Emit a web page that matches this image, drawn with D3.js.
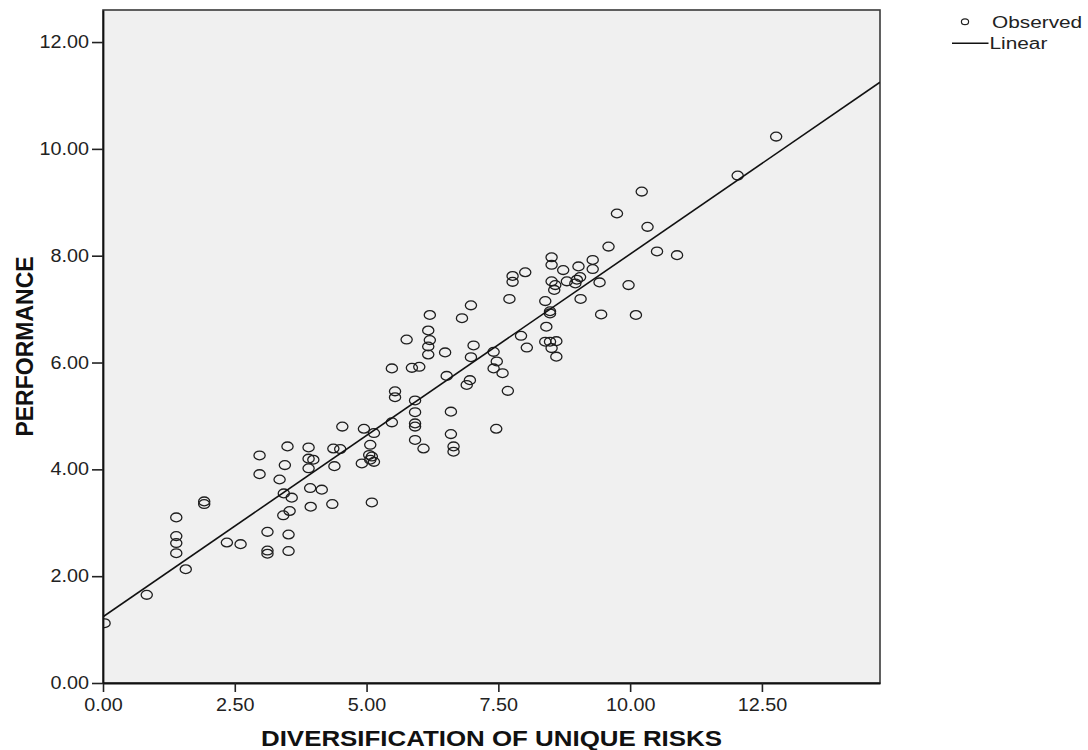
<!DOCTYPE html>
<html>
<head>
<meta charset="utf-8">
<script src="https://cdn.jsdelivr.net/npm/d3@7"></script>
<style>
  body { margin: 0; background: #fff; }
  text { font-family: Arial, "Liberation Sans", sans-serif; }
</style>
</head>
<body>
<svg width="1088" height="750"></svg>
<script>
// observed points
const diversification = [
  0.03, 0.83, 1.57, 1.39, 1.39, 1.39, 1.39, 1.92, 1.92, 2.35,
  2.61, 2.97, 2.97, 3.12, 3.12, 3.12, 3.50, 3.45, 3.35, 3.43,
  3.58, 3.54, 3.42, 3.52, 3.52, 3.90, 3.90, 3.99, 3.90, 3.93,
  4.15, 3.94, 4.35, 4.37, 4.50, 4.39, 4.54, 4.95, 5.14, 5.07,
  5.05, 5.10, 5.07, 5.14, 4.91, 5.10, 5.48, 5.54, 5.54, 5.92,
  5.92, 5.92, 5.92, 5.92, 6.08, 6.20, 6.81, 6.98, 5.76, 6.17,
  6.20, 6.17, 6.17, 6.49, 5.48, 5.86, 6.00, 6.52, 7.03, 6.98,
  6.96, 6.90, 6.60, 6.60, 6.65, 6.65, 7.46, 7.41, 7.47, 7.41,
  7.58, 7.68, 7.93, 8.04, 8.48, 8.48, 8.41, 8.39, 8.48, 8.60,
  8.51, 8.60, 10.33, 9.59, 10.51, 10.89, 8.51, 8.51, 7.77, 7.77,
  8.01, 8.73, 9.02, 9.29, 9.29, 8.51, 8.58, 8.56, 8.80, 8.99,
  9.05, 8.96, 9.42, 9.06, 9.97, 7.71, 8.39, 9.45, 10.11, 12.77,
  12.04, 10.22, 9.75
];
const performance = [
  1.12, 1.65, 2.13, 3.10, 2.75, 2.62, 2.43, 3.40, 3.35, 2.63,
  2.60, 4.26, 3.91, 2.83, 2.48, 2.42, 4.43, 4.08, 3.81, 3.55,
  3.47, 3.22, 3.14, 2.78, 2.47, 4.41, 4.20, 4.18, 4.02, 3.65,
  3.62, 3.30, 3.35, 4.39, 4.38, 4.06, 4.80, 4.76, 4.68, 4.46,
  4.27, 4.24, 4.18, 4.14, 4.11, 3.38, 4.88, 5.46, 5.35, 5.29,
  5.07, 4.86, 4.80, 4.55, 4.39, 6.89, 6.83, 7.07, 6.43, 6.60,
  6.42, 6.30, 6.15, 6.19, 5.89, 5.90, 5.92, 5.75, 6.32, 6.10,
  5.67, 5.58, 5.08, 4.66, 4.43, 4.33, 4.76, 6.20, 6.02, 5.89,
  5.80, 5.47, 6.50, 6.28, 6.92, 6.96, 6.67, 6.39, 6.39, 6.40,
  6.27, 6.11, 8.54, 8.17, 8.08, 8.01, 7.97, 7.83, 7.62, 7.51,
  7.69, 7.73, 7.80, 7.92, 7.75, 7.52, 7.45, 7.36, 7.52, 7.55,
  7.60, 7.48, 7.50, 7.19, 7.45, 7.19, 7.15, 6.90, 6.89, 10.23,
  9.50, 9.20, 8.79
];

// linear fit as drawn
const fitIntercept = 1.24;
const fitSlope = 0.679;

const xTicks = [0, 2.5, 5, 7.5, 10, 12.5];
const yTicks = [0, 2, 4, 6, 8, 10, 12];
const xTitle = "DIVERSIFICATION OF UNIQUE RISKS";
const yTitle = "PERFORMANCE";
const legendLabels = ["Observed", "Linear"];

const svg = d3.select("svg");
const plotL = 103, plotT = 10, plotR = 880, plotB = 683;

const x = d3.scaleLinear().domain([0, 14.74]).range([plotL, plotR]);
const y = d3.scaleLinear().domain([0, 12.6]).range([plotB, plotT]);
const fmt = d3.format(".2f");

// stretch text sideways, the picture is wider than it is tall
function stretch(sel, k) {
  sel.each(function() {
    const w = this.getComputedTextLength();
    d3.select(this).attr("textLength", w * k).attr("lengthAdjust", "spacingAndGlyphs");
  });
}

svg.append("clipPath").attr("id", "plotclip")
  .append("rect")
  .attr("x", plotL).attr("y", plotT)
  .attr("width", plotR - plotL).attr("height", plotB - plotT);

svg.append("rect")
  .attr("x", plotL).attr("y", plotT)
  .attr("width", plotR - plotL).attr("height", plotB - plotT)
  .attr("fill", "#f0f0f0")
  .attr("stroke", "#3a3a3a")
  .attr("stroke-width", 1.6);

// points
const pts = diversification.map((d, i) => ({x: d, y: performance[i]}));
svg.append("g")
  .attr("clip-path", "url(#plotclip)")
  .selectAll("ellipse")
  .data(pts)
  .join("ellipse")
  .attr("cx", d => x(d.x))
  .attr("cy", d => y(d.y))
  .attr("rx", 5.6)
  .attr("ry", 4.4)
  .attr("fill", "none")
  .attr("stroke", "#1e1e1e")
  .attr("stroke-width", 1.3);

// fit line
const line = d3.line().x(d => x(d)).y(d => y(fitIntercept + fitSlope * d));
svg.append("path")
  .attr("d", line(x.domain()))
  .attr("clip-path", "url(#plotclip)")
  .attr("fill", "none")
  .attr("stroke", "#111")
  .attr("stroke-width", 1.6);

// axes
const xAxis = svg.append("g")
  .attr("transform", `translate(0,${plotB})`)
  .call(d3.axisBottom(x).tickValues(xTicks).tickFormat(fmt).tickSize(9).tickPadding(7).tickSizeOuter(0));
const yAxis = svg.append("g")
  .attr("transform", `translate(${plotL},0)`)
  .call(d3.axisLeft(y).tickValues(yTicks).tickFormat(fmt).tickSize(11).tickPadding(3).tickSizeOuter(0));

[xAxis, yAxis].forEach(g => {
  g.select(".domain").attr("stroke", "#111").attr("stroke-width", 1.8);
  g.selectAll(".tick line").attr("stroke", "#222").attr("stroke-width", 1.6);
  g.selectAll(".tick text")
    .attr("font-family", "Arial, 'Liberation Sans', sans-serif")
    .attr("font-size", 17.5)
    .attr("fill", "#222")
    .call(stretch, 1.13);
});

// titles
svg.append("text")
  .attr("x", (plotL + plotR) / 2)
  .attr("y", 746)
  .attr("text-anchor", "middle")
  .attr("font-size", 22.5)
  .attr("font-weight", "bold")
  .attr("fill", "#111")
  .text(xTitle)
  .call(stretch, 1.15);

svg.append("text")
  .attr("transform", `translate(33,${(plotT + plotB) / 2}) rotate(-90)`)
  .attr("text-anchor", "middle")
  .attr("font-size", 23)
  .attr("font-weight", "bold")
  .attr("fill", "#111")
  .text(yTitle);

// legend: circle row, then line row
const legend = svg.append("g");
legend.append("ellipse")
  .attr("cx", 965).attr("cy", 21.7)
  .attr("rx", 3.6).attr("ry", 2.9)
  .attr("fill", "none").attr("stroke", "#222").attr("stroke-width", 1.2);
legend.append("line")
  .attr("x1", 952).attr("x2", 988.5)
  .attr("y1", 43.3).attr("y2", 43.3)
  .attr("stroke", "#111").attr("stroke-width", 1.5);
legend.selectAll("text.lbl")
  .data(legendLabels)
  .join("text")
  .attr("class", "lbl")
  .attr("x", (d, i) => i == 0 ? 992 : 989.5)
  .attr("y", (d, i) => i == 0 ? 27.5 : 49)
  .attr("font-size", 16)
  .attr("fill", "#222")
  .text(d => d)
  .call(stretch, 1.3);
</script>
</body>
</html>
